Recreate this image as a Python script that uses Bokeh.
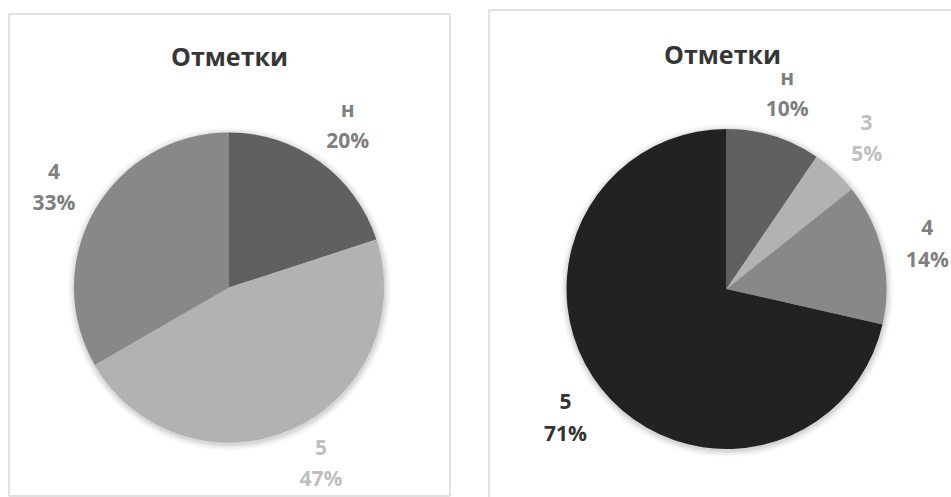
import numpy as np
from bokeh.plotting import figure
from bokeh.models import Range1d
from bokeh.core.properties import value
from bokeh.embed import file_html
from bokeh.resources import INLINE

# ---- data ----
title_text = "Отметки"
left_categories = ["н", "5", "4"]
left_counts = [3, 7, 5]
left_colors = ["#606060", "#b2b2b2", "#888888"]
left_label_colors = ["#7f7f7f", "#bfbfbf", "#7f7f7f"]

right_categories = ["н", "3", "4", "5"]
right_counts = [2, 1, 3, 15]
right_colors = ["#606060", "#b2b2b2", "#888888", "#222222"]
right_label_colors = ["#7f7f7f", "#bfbfbf", "#7f7f7f", "#333333"]

W, H = 951, 497
FONT = "Open Sans"

p = figure(width=W, height=H, output_backend="svg", toolbar_location=None,
           x_range=Range1d(0, W), y_range=Range1d(0, H), min_border=0)
p.axis.visible = False
p.grid.visible = False
p.outline_line_color = None
p.background_fill_color = "white"


def sy(screen_y):
    return H - screen_y


def sx(screen_x):
    return screen_x


# chart boxes
p.quad(left=[sx(8.5)], right=[sx(449.5)], bottom=[sy(495.5)], top=[sy(13.5)],
       fill_color=None, line_color="#d9d9d9", line_width=1.5)
p.quad(left=[sx(488.5)], right=[sx(960)], bottom=[sy(505)], top=[sy(9.5)],
       fill_color=None, line_color="#d9d9d9", line_width=1.5)


def draw_pie(cx, cy, r, cats, counts, colors, label_colors, label_dist, title_xy,
             label_floor):
    counts = np.array(counts, dtype=float)
    frac = counts / counts.sum()
    cum = np.concatenate([[0], np.cumsum(frac)])
    starts = np.pi / 2 - cum[:-1] * 2 * np.pi
    ends = np.pi / 2 - cum[1:] * 2 * np.pi
    # soft shadow
    for k, a in enumerate([0.035, 0.035, 0.03, 0.025, 0.02, 0.015]):
        p.circle(x=[cx + 0.5], y=[cy - 1.5], radius=r + 1 + k * 1.2,
                 fill_color="black", fill_alpha=a, line_color=None)
    p.wedge(x=cx, y=cy, radius=r, start_angle=starts, end_angle=ends,
            direction="clock", fill_color=colors, line_color=None)
    mids = (starts + ends) / 2
    lx = cx + (r + label_dist) * np.cos(mids)
    ly = cy + (r + label_dist) * np.sin(mids)
    # keep labels inside the chart area (pushed toward the pie side, like best fit)
    low = ly < label_floor
    lx = np.where(low, cx + (lx - cx) * 1.12, lx)
    ly = np.maximum(ly, label_floor)
    pct = [f"{round(f * 100):.0f}%" for f in frac]
    p.text(x=lx, y=ly + 15.5, text=cats, text_color=label_colors,
           text_font=value(FONT), text_font_style="bold", text_font_size="21px",
           text_align="center", text_baseline="middle")
    p.text(x=lx, y=ly - 15.5, text=pct, text_color=label_colors,
           text_font=value(FONT), text_font_style="bold", text_font_size="21px",
           text_align="center", text_baseline="middle")
    p.text(x=[title_xy[0]], y=[title_xy[1]], text=[title_text], text_color="#363636",
           text_font=value(FONT), text_font_style="bold", text_font_size="25px",
           text_align="center", text_baseline="middle")


draw_pie(sx(228.5), sy(287), 155, left_categories, left_counts, left_colors,
         left_label_colors, 47, (sx(229), sy(55)), sy(462))
draw_pie(sx(726), sy(288.5), 160, right_categories, right_counts, right_colors,
         right_label_colors, 46, (sx(722), sy(53)), sy(470))

open("out.html", "w").write(file_html(p, INLINE))
